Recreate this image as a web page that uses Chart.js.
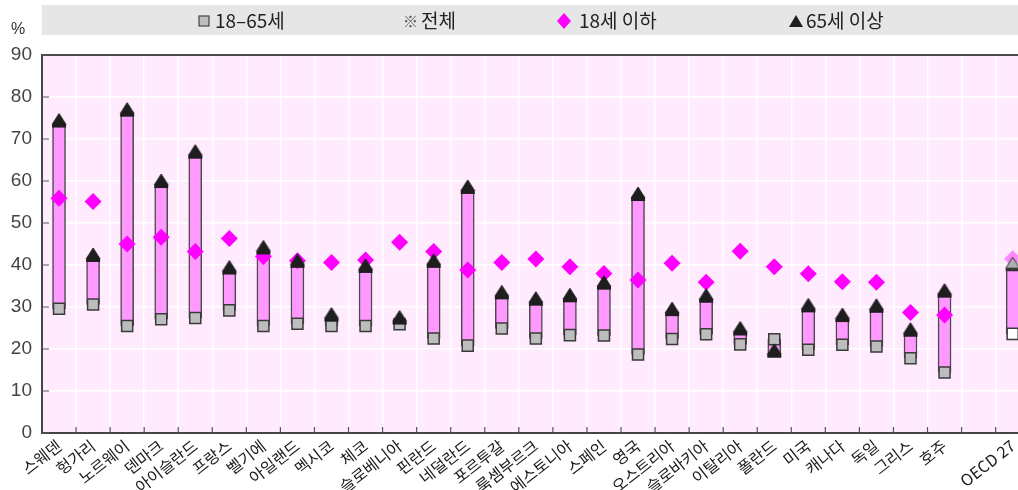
<!DOCTYPE html>
<html><head><meta charset="utf-8">
<script src="https://cdn.jsdelivr.net/npm/chart.js@4.4.1/dist/chart.umd.min.js"></script>
<style>
html,body{margin:0;padding:0;overflow:hidden;background:#fff;width:1018px;height:490px}
#wrap{position:relative;width:1039px;height:490px}
</style></head>
<body><div id="wrap"><canvas id="c" width="1039" height="490"></canvas></div>
<script>
// ---- data ----
const categories = ['스웨덴','헝가리','노르웨이','덴마크','아이슬란드','프랑스','벨기에','아일랜드','멕시코','체코','슬로베니아','핀란드','네덜란드','포르투갈','룩셈부르크','에스토니아','스페인','영국','오스트리아','슬로바키아','이탈리아','폴란드','미국','캐나다','독일','그리스','호주','','OECD 27'];
const age18to65 = [29.6,30.6,25.5,27.1,27.4,29.2,25.5,26.0,25.5,25.5,25.9,22.5,20.8,24.9,22.5,23.3,23.2,18.7,22.4,23.5,21.1,22.3,19.8,21.0,20.6,17.8,14.4,null,23.6];
const age65plus = [73.2,41.2,75.8,58.8,65.8,38.2,43.0,39.8,27.0,38.6,26.3,39.8,57.4,32.3,30.8,31.6,34.6,55.7,28.3,31.5,23.7,18.4,29.2,26.9,29.1,23.4,32.7,null,39.0];
const under18   = [55.9,55.1,45.0,46.6,43.2,46.3,42.0,41.0,40.6,41.2,45.4,43.2,38.8,40.6,41.4,39.6,38.0,36.4,40.4,35.9,43.3,39.6,37.9,36.0,35.9,28.7,28.1,null,41.5];
const seriesLabels = ['18–65세','전체','18세 이하','65세 이상'];
const yTicks = [0,10,20,30,40,50,60,70,80,90];
const oecdLabel = 'OECD 27';

// ---- styles ----
const isOecd = ctx => categories[ctx.dataIndex] === oecdLabel;
function triImg(fill, stroke){
  const c = document.createElement('canvas'); c.width = 16; c.height = 26;
  const g = c.getContext('2d');
  g.fillStyle = stroke; g.fillRect(1, 11.5, 14, 3.5);
  g.beginPath(); g.moveTo(1, 12); g.lineTo(15, 12); g.lineTo(8, 1); g.closePath();
  g.fillStyle = fill; g.fill(); g.lineWidth = 1; g.strokeStyle = stroke; g.stroke();
  return c;
}
const triBlack = triImg('#1e1e1e', '#1e1e1e');
const triGray = triImg('#b0b0b0', '#333333');

const decor = {
  id: 'decor',
  beforeDraw(chart){
    const {ctx, chartArea: a} = chart;
    ctx.save();
    ctx.fillStyle = '#ffeafe';
    ctx.fillRect(a.left, a.top, a.right - a.left, a.bottom - a.top);
    ctx.fillStyle = '#e6e6e6';
    ctx.fillRect(a.left, 5, chart.width - a.left, 30);
    ctx.restore();
  },
  afterDraw(chart){
    const {ctx, chartArea: a, scales} = chart;
    ctx.save();
    ctx.strokeStyle = '#4a4a4a'; ctx.lineWidth = 2;
    ctx.beginPath(); ctx.moveTo(a.left, a.top); ctx.lineTo(a.right, a.top); ctx.stroke();
    ctx.lineWidth = 1.2; ctx.strokeStyle = '#555';
    ctx.beginPath();
    scales.y.ticks.forEach(t => { const y = scales.y.getPixelForValue(t.value); ctx.moveTo(a.left, y); ctx.lineTo(a.left + 7, y); });
    const n = categories.length;
    for (let i = 1; i < n; i++) {
      const x = (scales.x.getPixelForValue(i - 1) + scales.x.getPixelForValue(i)) / 2;
      ctx.moveTo(x, a.bottom); ctx.lineTo(x, a.bottom - 6);
    }
    ctx.stroke();
    ctx.fillStyle = '#333'; ctx.font = '16px "Liberation Sans"'; ctx.textBaseline = 'middle';
    ctx.fillText('%', 11, 30);
    ctx.font = '19px "Noto Sans CJK KR"'; ctx.fillStyle = '#222';
    const ly = 21;
    ctx.fillStyle = '#bdbdbd'; ctx.strokeStyle = '#444'; ctx.lineWidth = 1.2;
    ctx.fillRect(199, ly - 5, 10, 10); ctx.strokeRect(199, ly - 5, 10, 10);
    ctx.fillStyle = '#222'; ctx.fillText(seriesLabels[0], 215, ly);
    ctx.font = '15px "Noto Sans CJK KR"'; ctx.fillStyle = '#555';
    ctx.fillText('※', 403, ly);
    ctx.font = '19px "Noto Sans CJK KR"'; ctx.fillStyle = '#222';
    ctx.fillText(seriesLabels[1], 421, ly);
    ctx.fillStyle = '#ff00ff';
    ctx.beginPath(); ctx.moveTo(557, ly); ctx.lineTo(564, ly - 8); ctx.lineTo(571, ly); ctx.lineTo(564, ly + 8); ctx.closePath(); ctx.fill();
    ctx.fillStyle = '#222'; ctx.fillText(seriesLabels[2], 579, ly);
    ctx.fillStyle = '#1e1e1e';
    ctx.beginPath(); ctx.moveTo(789, ly + 6); ctx.lineTo(803, ly + 6); ctx.lineTo(796, ly - 6); ctx.closePath(); ctx.fill();
    ctx.fillStyle = '#222'; ctx.fillText(seriesLabels[3], 806, ly);
    ctx.restore();
  }
};

new Chart(document.getElementById('c'), {
  type: 'bar',
  data: {
    labels: categories,
    datasets: [
      {
        type: 'bar', label: 'range',
        data: categories.map((_, i) => age18to65[i] == null ? null : [age18to65[i], age65plus[i]]),
        backgroundColor: '#ff99ff', borderColor: '#4a4a4a', borderWidth: 1.5, borderSkipped: false,
        barThickness: 13, order: 3
      },
      {
        type: 'line', label: seriesLabels[2], data: under18, showLine: false,
        pointStyle: 'rectRot', pointRadius: 8.5, pointBorderWidth: 0,
        pointBackgroundColor: ctx => isOecd(ctx) ? 'rgba(255,80,255,0.65)' : '#ff00ff',
        pointBorderColor: 'rgba(0,0,0,0)', order: 2
      },
      {
        type: 'line', label: seriesLabels[0], data: age18to65, showLine: false,
        pointStyle: 'rect', pointRadius: 7.8, pointBorderWidth: 1.5,
        pointBackgroundColor: ctx => isOecd(ctx) ? '#ffffff' : '#bdbdbd',
        pointBorderColor: '#3a3a3a', order: 1
      },
      {
        type: 'line', label: seriesLabels[3], data: age65plus, showLine: false,
        pointStyle: ctx => isOecd(ctx) ? triGray : triBlack, pointRadius: 8,
        order: 0
      }
    ]
  },
  options: {
    responsive: false, animation: false,
    layout: { padding: { top: 55, left: 0, right: 4, bottom: 0 } },
    plugins: { legend: { display: false }, tooltip: { enabled: false } },
    events: [],
    scales: {
      x: {
        grid: { color: '#ffffff', lineWidth: 1.5, drawTicks: false, offset: true },
        border: { color: '#444', width: 2 },
        ticks: { color: '#1a1a1a', font: { family: '"Noto Sans CJK KR"', size: 16 }, minRotation: 38, maxRotation: 38, autoSkip: false, padding: 3 },
        afterFit(s){ s.height = 57; }
      },
      y: {
        min: yTicks[0], max: yTicks[yTicks.length - 1],
        afterBuildTicks(s){ s.ticks = yTicks.map(v => ({ value: v })); },
        grid: { color: '#ffffff', lineWidth: 1.5, drawTicks: false },
        border: { color: '#444', width: 2 },
        ticks: { color: '#444', font: { family: '"Liberation Sans"', size: 19 }, padding: 10 },
        afterFit(s){ s.width = 42; }
      }
    }
  },
  plugins: [decor]
});
</script>
</body></html>
